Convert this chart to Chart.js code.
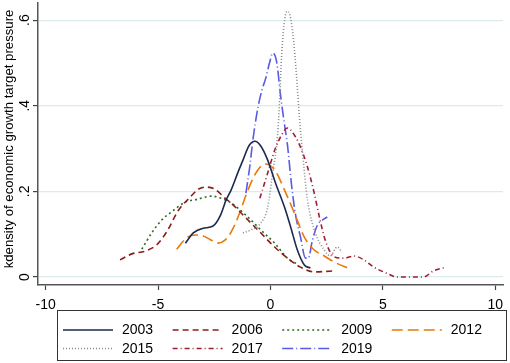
<!DOCTYPE html>
<html>
<head>
<meta charset="utf-8">
<script src="https://cdn.jsdelivr.net/npm/chart.js@4/dist/chart.umd.min.js"></script>
<style>
  html, body { margin: 0; padding: 0; background: #fff; }
  #wrap { width: 510px; height: 363px; position: relative; }
</style>
</head>
<body>
<div id="wrap"><canvas id="kd"></canvas></div>
<script>
// kernel density curves
const x2003 = [-3.78, -3.43, -2.99, -2.55, -2.24, -1.97, -1.75, -1.44, -1.22, -0.96, -0.69, -0.43, -0.12, 0.23, 0.63, 0.90, 1.20, 1.51, 1.78];
const y2003 = [0.079, 0.103, 0.114, 0.119, 0.142, 0.180, 0.203, 0.245, 0.273, 0.306, 0.317, 0.306, 0.273, 0.219, 0.163, 0.117, 0.063, 0.028, 0.021];

const x2006 = [-6.69, -6.16, -5.54, -5.06, -4.62, -4.09, -3.56, -3.21, -2.85, -2.46, -2.02, -1.75, -1.13, -0.56, 0.19, 0.76, 1.34, 1.95, 2.75];
const y2006 = [0.040, 0.054, 0.061, 0.075, 0.105, 0.156, 0.187, 0.205, 0.210, 0.205, 0.184, 0.173, 0.140, 0.110, 0.070, 0.044, 0.023, 0.012, 0.014];

const x2009 = [-5.72, -5.28, -4.84, -4.40, -3.78, -3.21, -2.63, -2.10, -1.75, -1.00, -0.43, 0.19, 0.76, 1.20];
const y2009 = [0.065, 0.103, 0.133, 0.152, 0.175, 0.182, 0.189, 0.182, 0.173, 0.140, 0.110, 0.079, 0.044, 0.030];

const x2012 = [-4.17, -3.74, -3.34, -2.99, -2.63, -2.32, -2.02, -1.75, -1.44, -1.00, -0.56, -0.21, 0.19, 0.63, 1.07, 1.51, 1.95, 2.40, 2.84, 3.54];
const y2012 = [0.065, 0.091, 0.098, 0.096, 0.086, 0.079, 0.086, 0.105, 0.140, 0.203, 0.250, 0.264, 0.250, 0.203, 0.149, 0.093, 0.063, 0.049, 0.035, 0.019];

const x2015 = [-1.22, -0.87, -0.43, -0.12, 0.10, 0.32, 0.41, 0.50, 0.63, 0.76, 0.90, 1.03, 1.16, 1.29, 1.42, 1.65, 2.00, 2.40, 2.66, 2.97, 3.19];
const y2015 = [0.103, 0.110, 0.126, 0.163, 0.243, 0.331, 0.413, 0.518, 0.600, 0.621, 0.604, 0.553, 0.471, 0.373, 0.296, 0.180, 0.103, 0.063, 0.049, 0.070, 0.058];

const x2017 = [-0.47, -0.12, 0.19, 0.45, 0.76, 1.12, 1.34, 1.65, 1.95, 2.18, 2.44, 2.84, 3.28, 3.72, 4.16, 4.60, 5.17, 5.62, 6.37, 6.81, 7.25, 7.82];
const y2017 = [0.184, 0.243, 0.296, 0.327, 0.348, 0.327, 0.303, 0.257, 0.196, 0.140, 0.086, 0.047, 0.044, 0.049, 0.040, 0.023, 0.009, 0.000, 0.000, 0.000, 0.014, 0.023];

const x2019 = [-1.09, -0.91, -0.78, -0.56, -0.38, -0.21, -0.03, 0.10, 0.28, 0.45, 0.63, 0.76, 0.94, 1.12, 1.34, 1.56, 1.69, 1.87, 2.09, 2.31, 2.53];
const y2019 = [0.196, 0.261, 0.320, 0.394, 0.436, 0.464, 0.502, 0.523, 0.502, 0.425, 0.355, 0.308, 0.215, 0.145, 0.093, 0.044, 0.044, 0.086, 0.121, 0.133, 0.140];

const xTicks = [-10, -5, 0, 5, 10];
const yTicks = [0, 0.2, 0.4, 0.6];
const yTitle = 'kdensity of economic growth target pressure';

const FONT = 'Arial, "Liberation Sans", sans-serif';

function pts(xs, ys) {
  return xs.map((v, i) => ({ x: v, y: ys[i] }));
}

function series(label, xs, ys, color, dash) {
  return {
    label: label,
    data: pts(xs, ys),
    borderColor: color,
    borderWidth: 1.6,
    borderDash: dash,
    pointRadius: 0,
    fill: false,
    cubicInterpolationMode: 'monotone'
  };
}

const datasets = [
  series('2003', x2003, y2003, '#1b2a4e', []),
  series('2006', x2006, y2006, '#8c1c1c', [6, 4]),
  series('2009', x2009, y2009, '#2f6a1f', [2, 3]),
  series('2012', x2012, y2012, '#e8780a', [11, 5]),
  series('2015', x2015, y2015, '#8a8a8a', [1, 2]),
  series('2017', x2017, y2017, '#a11d35', [5, 3, 1, 3]),
  series('2019', x2019, y2019, '#5a5ae6', [11, 3, 1, 3])
];

// y tick labels + axis title, rotated like Stata, placed from the y scale
const yLabels = {
  id: 'yLabels',
  afterDraw(chart) {
    const ctx = chart.ctx;
    const s = chart.scales.y;
    ctx.save();
    ctx.fillStyle = '#000';
    ctx.textAlign = 'center';
    ctx.textBaseline = 'middle';
    ctx.font = '14px ' + FONT;
    yTicks.forEach(v => {
      const txt = v === 0 ? '0' : String(v).replace(/^0/, '');
      ctx.save();
      ctx.translate(25, s.getPixelForValue(v));
      ctx.rotate(-Math.PI / 2);
      ctx.fillText(txt, 0, 0);
      ctx.restore();
    });
    ctx.font = '13.2px ' + FONT;
    ctx.translate(9.5, 139);
    ctx.rotate(-Math.PI / 2);
    ctx.fillText(yTitle, 0, 0);
    ctx.restore();
  }
};

// legend drawn as a 4-column boxed grid, like the original
const boxLegend = {
  id: 'boxLegend',
  afterDraw(chart) {
    const ctx = chart.ctx;
    ctx.save();
    ctx.strokeStyle = '#333';
    ctx.lineWidth = 1;
    ctx.strokeRect(57.5, 310.5, 449, 50);
    ctx.font = '14px ' + FONT;
    ctx.textBaseline = 'middle';
    ctx.fillStyle = '#000';
    chart.data.datasets.forEach((ds, i) => {
      const col = i % 4;
      const row = Math.floor(i / 4);
      const x0 = 63 + col * 109.6;
      const y0 = 330 + row * 18.5;
      ctx.beginPath();
      ctx.setLineDash(ds.borderDash);
      ctx.strokeStyle = ds.borderColor;
      ctx.lineWidth = ds.borderWidth;
      ctx.moveTo(x0, y0);
      ctx.lineTo(x0 + 50, y0);
      ctx.stroke();
      ctx.setLineDash([]);
      ctx.fillText(ds.label, x0 + 59, y0 + 0.5);
    });
    ctx.restore();
  }
};

new Chart(document.getElementById('kd'), {
  type: 'line',
  data: { datasets: datasets },
  plugins: [yLabels, boxLegend],
  options: {
    responsive: true,
    maintainAspectRatio: false,
    animation: false,
    layout: { padding: { top: 3, right: 3, bottom: 53, left: 0 } },
    plugins: {
      legend: { display: false },
      tooltip: { enabled: false }
    },
    scales: {
      x: {
        type: 'linear',
        min: -10.34,
        max: 10.35,
        afterBuildTicks: s => { s.ticks = xTicks.map(v => ({ value: v })); },
        afterFit: s => { s.height = 25; },
        grid: { drawOnChartArea: false, tickLength: 5, tickColor: '#444', tickWidth: 1.2 },
        border: { color: '#555', width: 1.5 },
        ticks: { color: '#000', padding: 7, font: { family: FONT, size: 14 }, maxRotation: 0 }
      },
      y: {
        min: -0.0187,
        max: 0.64,
        afterBuildTicks: s => { s.ticks = yTicks.map(v => ({ value: v })); },
        afterFit: s => { s.width = 38; },
        grid: { color: '#dcebf0', lineWidth: 1.2, tickLength: 5, tickColor: '#444', tickWidth: 1.2 },
        border: { color: '#555', width: 1.5 },
        ticks: { display: false },
        title: { display: false }
      }
    }
  }
});
</script>
</body>
</html>
